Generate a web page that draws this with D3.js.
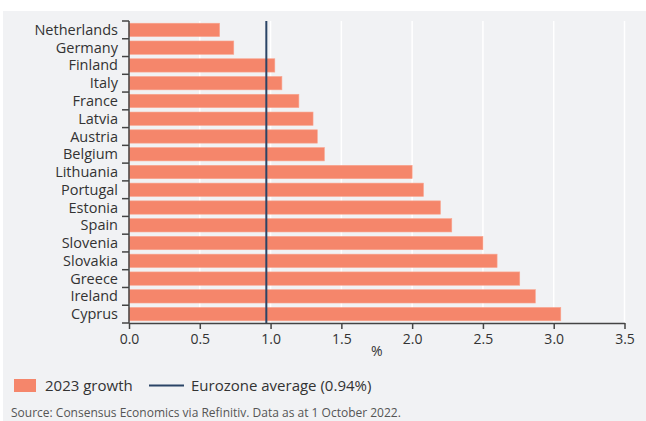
<!DOCTYPE html>
<html>
<head>
<meta charset="utf-8">
<script src="https://cdn.jsdelivr.net/npm/d3@7"></script>
<style>
  html, body { margin: 0; padding: 0; background: #ffffff; }
  svg { display: block; font-family: "Open Sans", "Noto Sans", sans-serif; }
</style>
</head>
<body>
<svg id="chart" width="646" height="421"></svg>
<script>
// ---- Data ----
const countries = ["Netherlands", "Germany", "Finland", "Italy", "France", "Latvia", "Austria", "Belgium",
  "Lithuania", "Portugal", "Estonia", "Spain", "Slovenia", "Slovakia", "Greece", "Ireland", "Cyprus"];
const growth2023 = [0.64, 0.74, 1.03, 1.08, 1.2, 1.3, 1.33, 1.38, 2.0, 2.08, 2.2, 2.28, 2.5, 2.6, 2.76, 2.87, 3.05];
const xTicks = [0, 0.5, 1.0, 1.5, 2.0, 2.5, 3.0, 3.5];
const eurozoneLine = [0.97];
const legendLabels = ["2023 growth", "Eurozone average (0.94%)"];
const xAxisTitle = "%";
const sourceText = "Source: Consensus Economics via Refinitiv. Data as at 1 October 2022.";

// ---- Layout ----
const svg = d3.select("#chart");
const W = 646, H = 421;
const mLeft = 129, mRight = 624.5, mTop = 21, mBottom = 323;
const barColor = "#f5866b";
const lineColor = "#2a4466";
const axisColor = "#444";
const textColor = "#333";

svg.append("rect").attr("x", 3).attr("y", 11).attr("width", W - 3).attr("height", H - 11).attr("fill", "#f1f2f4");

const x = d3.scaleLinear().domain([0, 3.5]).range([mLeft, mRight]);
const y = d3.scaleBand().domain(countries).range([mTop, mBottom]).paddingInner(0.25).paddingOuter(0.125);
const data = countries.map((c, i) => ({ c, v: growth2023[i] }));

// gridlines
svg.append("g").selectAll("line").data(xTicks.slice(1)).join("line")
  .attr("x1", d => x(d)).attr("x2", d => x(d))
  .attr("y1", mTop).attr("y2", mBottom)
  .attr("stroke", "#ffffff").attr("stroke-width", 1.5);

// bars
svg.append("g").selectAll("rect").data(data).join("rect")
  .attr("x", x(0)).attr("y", d => y(d.c))
  .attr("width", d => x(d.v) - x(0)).attr("height", y.bandwidth())
  .attr("fill", barColor).attr("stroke", "#f9a58f").attr("stroke-width", 0.6);

// eurozone line
svg.append("g").selectAll("line").data(eurozoneLine).join("line")
  .attr("x1", d => x(d)).attr("x2", d => x(d))
  .attr("y1", mTop).attr("y2", mBottom)
  .attr("stroke", lineColor).attr("stroke-width", 2);

// x axis
const xAxis = svg.append("g").attr("transform", `translate(0,${mBottom})`)
  .call(d3.axisBottom(x).tickValues(xTicks).tickFormat(d3.format(".1f")).tickSize(6).tickSizeOuter(0));
xAxis.select(".domain").attr("stroke", axisColor).attr("stroke-width", 1.5);
xAxis.selectAll(".tick line").attr("stroke", axisColor).attr("stroke-width", 1.5);
xAxis.selectAll(".tick text").attr("fill", textColor).attr("font-size", 14).attr("font-family", "Open Sans").attr("dy", "0.85em");

svg.append("text").attr("x", x(1.75)).attr("y", 356).attr("text-anchor", "middle")
  .attr("fill", textColor).attr("font-size", 14).text(xAxisTitle);

// y axis
const yIdx = d3.scaleLinear().domain([0, countries.length]).range([mTop, mBottom]);
const yg = svg.append("g");
yg.append("line").attr("x1", mLeft).attr("x2", mLeft).attr("y1", mTop).attr("y2", mBottom)
  .attr("stroke", axisColor).attr("stroke-width", 1.5);
yg.selectAll("line.tk").data(d3.range(countries.length + 1)).join("line").attr("class", "tk")
  .attr("x1", mLeft - 7).attr("x2", mLeft).attr("y1", d => yIdx(d)).attr("y2", d => yIdx(d))
  .attr("stroke", axisColor).attr("stroke-width", 1.5);
yg.selectAll("text").data(countries).join("text")
  .attr("x", 118).attr("y", d => y(d) + y.bandwidth() / 2).attr("dy", "0.35em")
  .attr("text-anchor", "end").attr("fill", textColor).attr("font-size", 14.5).text(d => d);

// legend
const lg = svg.append("g");
lg.append("rect").attr("x", 14).attr("y", 379).attr("width", 22).attr("height", 13).attr("fill", barColor);
lg.append("text").attr("x", 45).attr("y", 385.5).attr("dy", "0.35em").attr("fill", textColor).attr("font-size", 15).text(legendLabels[0]);
lg.append("line").attr("x1", 149).attr("x2", 184).attr("y1", 385.5).attr("y2", 385.5).attr("stroke", lineColor).attr("stroke-width", 2);
lg.append("text").attr("x", 191).attr("y", 385.5).attr("dy", "0.35em").attr("fill", textColor).attr("font-size", 15).text(legendLabels[1]);

svg.append("text").attr("x", 11).attr("y", 416.5).attr("fill", "#555").attr("font-size", 12).text(sourceText);
</script>
</body>
</html>
